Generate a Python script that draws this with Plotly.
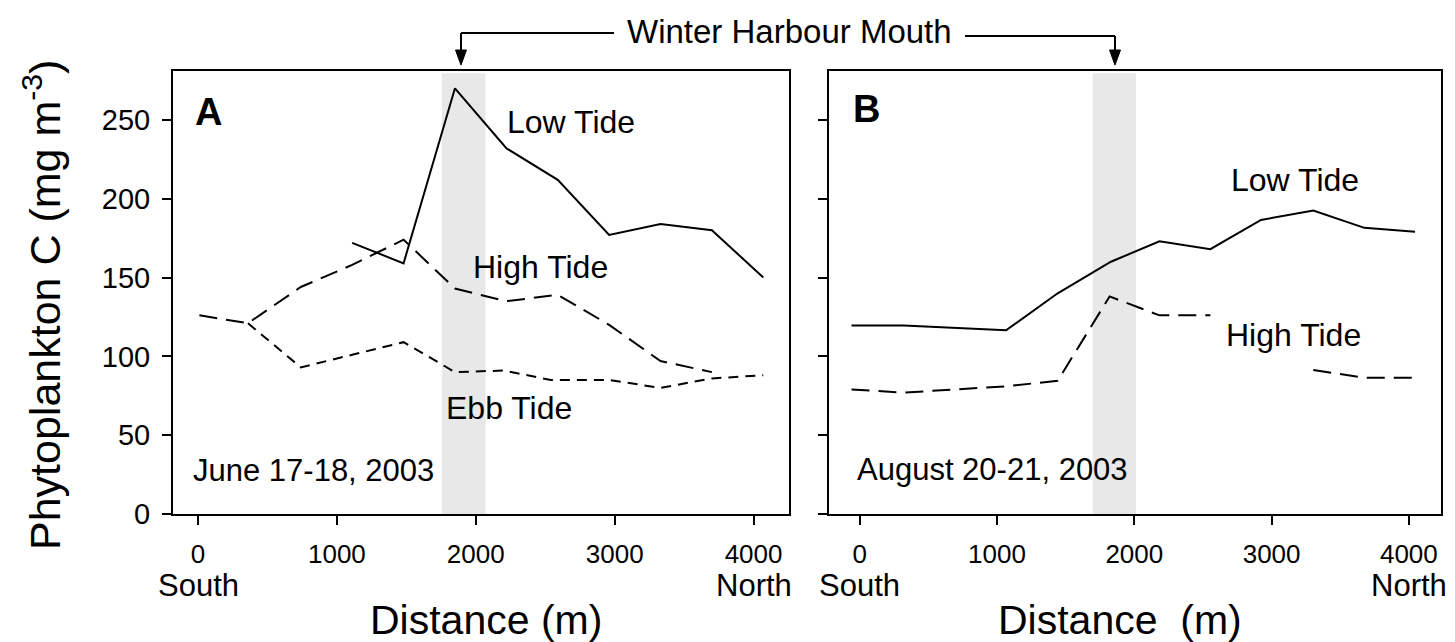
import plotly.graph_objects as go

# ---------------- data ----------------
# Panel A (June 17-18, 2003)
a_low_x = [1110, 1480, 1850, 2220, 2590, 2960, 3330, 3700, 4070]
a_low_y = [172, 159, 270, 232, 212, 177, 184, 180, 150]
a_high_x = [10, 360, 740, 1110, 1480, 1850, 2220, 2590, 2960, 3330, 3700]
a_high_y = [126, 121, 144, 158, 174, 143, 135, 139, 120, 97, 90]
a_ebb_x = [360, 740, 1110, 1480, 1850, 2200, 2540, 2960, 3330, 3700, 4070]
a_ebb_y = [121, 93, 101, 109, 90, 91, 85, 85, 80, 86, 88]

# Panel B (August 20-21, 2003)
b_low_x = [-60, 320, 1066, 1442, 1830, 2183, 2554, 2923, 3304, 3676, 4045]
b_low_y = [119.5, 119.5, 116.5, 140, 160, 173, 168, 186.5, 192.5, 181.5, 179]
b_high_x = [-60, 320, 1066, 1442, 1820, 2183, 2554, 2923, 3304, 3676, 4045]
b_high_y = [79, 77, 81, 84.5, 138, 126, 126, None, 91.3, 86.4, 86.4]

x_ticks = [0, 1000, 2000, 3000, 4000]
y_ticks = [0, 50, 100, 150, 200, 250]
mouth_band_a = [1755, 2070]
mouth_band_b = [1697, 2012]

# ---------------- layout geometry ----------------
W, H = 1455, 642
ML, MR, MT, MB = 165, 22, 63, 136
PW, PH = W - ML - MR, H - MT - MB
FONT = "Liberation Sans, Arial, Helvetica, sans-serif"


def px(xp):
    return (xp - ML) / PW


def py(yp):
    return (H - MB - yp) / PH


fig = go.Figure()

LINE_W = 2
fig.add_trace(go.Scatter(x=a_low_x, y=a_low_y, mode="lines", xaxis="x", yaxis="y",
                         line=dict(color="black", width=LINE_W)))
fig.add_trace(go.Scatter(x=a_high_x, y=a_high_y, mode="lines", xaxis="x", yaxis="y",
                         line=dict(color="black", width=LINE_W, dash="18px,9px")))
fig.add_trace(go.Scatter(x=a_ebb_x, y=a_ebb_y, mode="lines", xaxis="x", yaxis="y",
                         line=dict(color="black", width=LINE_W, dash="10px,7px")))
fig.add_trace(go.Scatter(x=b_low_x, y=b_low_y, mode="lines", xaxis="x2", yaxis="y2",
                         line=dict(color="black", width=LINE_W)))
fig.add_trace(go.Scatter(x=b_high_x, y=b_high_y, mode="lines", xaxis="x2", yaxis="y2",
                         connectgaps=False,
                         line=dict(color="black", width=LINE_W, dash="18px,9px")))

# shaded harbour-mouth bands
fig.add_shape(type="rect", xref="x", yref="y domain", x0=mouth_band_a[0], x1=mouth_band_a[1],
              y0=0, y1=0.995, fillcolor="#e8e8e8", line=dict(width=0), layer="below")
fig.add_shape(type="rect", xref="x2", yref="y2 domain", x0=mouth_band_b[0], x1=mouth_band_b[1],
              y0=0, y1=0.995, fillcolor="#e8e8e8", line=dict(width=0), layer="below")

axis_common = dict(showgrid=False, zeroline=False, showline=True, linecolor="black",
                   linewidth=2, mirror=True, ticks="outside", ticklen=9, tickwidth=2,
                   tickcolor="black")
xtickfont = dict(family=FONT, size=26, color="black")
ytickfont = dict(family=FONT, size=29, color="black")

fig.update_layout(
    width=W, height=H,
    margin=dict(l=ML, r=MR, t=MT, b=MB, autoexpand=False),
    paper_bgcolor="white", plot_bgcolor="white",
    showlegend=False,
    font=dict(family=FONT, color="black"),
    xaxis=dict(domain=[0, 616 / PW], range=[-180, 4255], tickvals=x_ticks,
               ticklabelstandoff=7, tickfont=xtickfont, **axis_common),
    yaxis=dict(domain=[0, 1], range=[0, 281], tickvals=y_ticks, ticklabelstandoff=6,
               tickfont=ytickfont, **axis_common),
    xaxis2=dict(domain=[(820.7 - ML) / PW, 1], range=[-226, 4234], tickvals=x_ticks,
                ticklabelstandoff=7, tickfont=xtickfont, **axis_common),
    yaxis2=dict(domain=[0, 1], range=[0, 281], tickvals=y_ticks, showticklabels=False,
                **axis_common),
)
fig.update_layout(xaxis2=dict(anchor="y2"), yaxis2=dict(anchor="x2"))

ann = []


def txt(text, xp, yp, size=32, xanchor="left", bold=False, angle=0):
    ann.append(dict(text=("<b>%s</b>" % text) if bold else text, x=px(xp), y=py(yp),
                    xref="paper", yref="paper", xanchor=xanchor, yanchor="middle",
                    showarrow=False, textangle=angle,
                    font=dict(family=FONT, size=size, color="black")))


txt("A", 185, 104, size=38, bold=True)
txt("B", 843, 101, size=38, bold=True)
txt("Low Tide", 497, 114)
txt("High Tide", 463, 259)
txt("Ebb Tide", 436, 400)
txt("June 17-18, 2003", 183, 462, size=31)
txt("Low Tide", 1221, 172)
txt("High Tide", 1216, 327)
txt("August 20-21, 2003", 847, 461, size=31)

# South / North labels
for xr, xv, label in [("x", 0, "South"), ("x", 4000, "North"), ("x2", 0, "South"), ("x2", 4000, "North")]:
    ann.append(dict(text=label, x=xv, y=py(577), xref=xr, yref="paper", xanchor="center",
                    yanchor="middle", showarrow=False,
                    font=dict(family=FONT, size=31, color="black")))

# axis titles
txt("Distance (m)", 478, 612, size=41, xanchor="center")
txt("Distance\u00a0 (m)", 1112, 612, size=41, xanchor="center")
txt("Phytoplankton C (mg m<sup>-3</sup>)", 34, 297, size=43, xanchor="center", angle=-90)

# Winter Harbour Mouth bracket
txt("Winter Harbour Mouth", 781, 23, size=33, xanchor="center")
bracket = [(453, 25, 606), (1107, 28, 957)]
for xa, y_top, x_end in bracket:
    fig.add_shape(type="line", xref="paper", yref="paper", x0=px(xa), x1=px(x_end),
                  y0=py(y_top), y1=py(y_top), line=dict(color="black", width=2))
    fig.add_shape(type="line", xref="paper", yref="paper", x0=px(xa), x1=px(xa),
                  y0=py(y_top), y1=py(44), line=dict(color="black", width=2))
    path = "M %f,%f L %f,%f L %f,%f Z" % (px(xa - 5.5), py(42), px(xa + 5.5), py(42),
                                           px(xa), py(57))
    fig.add_shape(type="path", xref="paper", yref="paper", path=path,
                  fillcolor="black", line=dict(color="black", width=1))

fig.update_layout(annotations=ann)
fig.write_html("out.html")
